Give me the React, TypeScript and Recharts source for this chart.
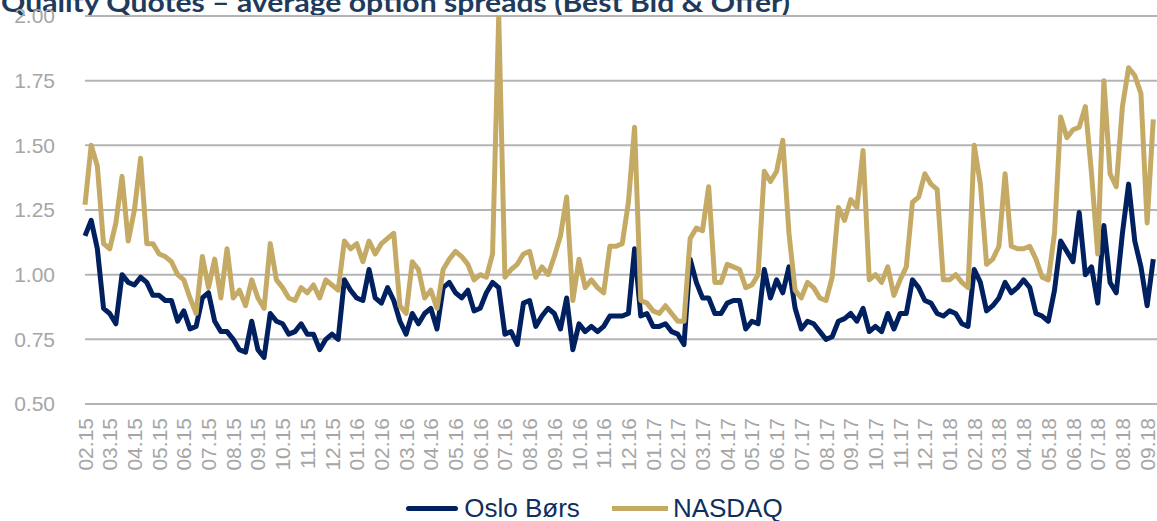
import { LineChart, Line, XAxis, YAxis, CartesianGrid } from 'recharts';

// month labels, one tick per month starting 02.15
const months = [
  '02.15', '03.15', '04.15', '05.15', '06.15', '07.15', '08.15', '09.15', '10.15', '11.15', '12.15',
  '01.16', '02.16', '03.16', '04.16', '05.16', '06.16', '07.16', '08.16', '09.16', '10.16', '11.16', '12.16',
  '01.17', '02.17', '03.17', '04.17', '05.17', '06.17', '07.17', '08.17', '09.17', '10.17', '11.17', '12.17',
  '01.18', '02.18', '03.18', '04.18', '05.18', '06.18', '07.18', '08.18', '09.18',
];

// weekly readings (4 per month) of average spread
const osloBors = [
  1.15, 1.21, 1.10, 0.87, 0.85, 0.81, 1.00, 0.97, 0.96, 0.99, 0.97, 0.92, 0.92, 0.90, 0.90, 0.82,
  0.86, 0.79, 0.80, 0.91, 0.93, 0.82, 0.78, 0.78, 0.75, 0.71, 0.70, 0.82, 0.71, 0.68, 0.85, 0.82,
  0.81, 0.77, 0.78, 0.81, 0.77, 0.77, 0.71, 0.75, 0.77, 0.75, 0.98, 0.94,
  0.91, 0.90, 1.02, 0.91, 0.89, 0.95, 0.90, 0.82, 0.77, 0.85, 0.81, 0.85, 0.87, 0.79, 0.95, 0.97,
  0.93, 0.91, 0.94, 0.86, 0.87, 0.93, 0.97, 0.95, 0.77, 0.78, 0.73, 0.89, 0.90, 0.80, 0.84, 0.87,
  0.85, 0.79, 0.91, 0.71, 0.81, 0.78, 0.80, 0.78, 0.80, 0.84, 0.84, 0.84,
  0.85, 1.10, 0.84, 0.85, 0.80, 0.80, 0.81, 0.78, 0.77, 0.73, 1.06, 0.97, 0.91, 0.91, 0.85, 0.85,
  0.89, 0.90, 0.90, 0.79, 0.82, 0.81, 1.02, 0.91, 0.98, 0.93, 1.03, 0.87, 0.79, 0.82, 0.81, 0.78,
  0.75, 0.76, 0.82, 0.83, 0.85, 0.82, 0.87, 0.78, 0.80, 0.78, 0.85, 0.79,
  0.85, 0.85, 0.98, 0.95, 0.90, 0.89, 0.85, 0.84, 0.86, 0.85, 0.81, 0.80, 1.02, 0.97, 0.86, 0.88,
  0.91, 0.97, 0.93, 0.95, 0.98, 0.95, 0.85, 0.84, 0.82, 0.94, 1.13, 1.09, 1.05, 1.24, 1.00, 1.03,
  0.89, 1.19, 0.97, 0.93, 1.16, 1.35, 1.13, 1.03, 0.88, 1.06,
];

const nasdaq = [
  1.27, 1.50, 1.42, 1.12, 1.10, 1.20, 1.38, 1.13, 1.25, 1.45, 1.12, 1.12, 1.08, 1.07, 1.05, 1.00,
  0.98, 0.91, 0.85, 1.07, 0.95, 1.06, 0.91, 1.10, 0.91, 0.94, 0.88, 0.98, 0.91, 0.87, 1.12, 0.98,
  0.95, 0.91, 0.90, 0.95, 0.93, 0.96, 0.91, 0.98, 0.96, 0.94, 1.13, 1.10,
  1.12, 1.05, 1.13, 1.08, 1.12, 1.14, 1.16, 0.88, 0.85, 1.05, 1.02, 0.91, 0.94, 0.87, 1.02, 1.06,
  1.09, 1.07, 1.04, 0.98, 1.00, 0.99, 1.08, 2.00, 0.99, 1.02, 1.04, 1.08, 1.09, 0.99, 1.03, 1.00,
  1.07, 1.15, 1.30, 0.90, 1.06, 0.95, 0.98, 0.95, 0.93, 1.11, 1.11, 1.12,
  1.28, 1.57, 0.90, 0.89, 0.86, 0.85, 0.88, 0.85, 0.82, 0.82, 1.14, 1.18, 1.17, 1.34, 0.97, 0.97,
  1.04, 1.03, 1.02, 0.95, 0.96, 1.00, 1.40, 1.36, 1.40, 1.52, 1.16, 0.94, 0.91, 0.97, 0.95, 0.91,
  0.90, 0.99, 1.26, 1.21, 1.29, 1.26, 1.48, 0.98, 1.00, 0.97, 1.03, 0.92,
  0.98, 1.03, 1.28, 1.30, 1.39, 1.35, 1.33, 0.98, 0.98, 1.00, 0.97, 0.95, 1.50, 1.35, 1.04, 1.06,
  1.11, 1.39, 1.11, 1.10, 1.10, 1.11, 1.06, 0.99, 0.98, 1.16, 1.61, 1.53, 1.56, 1.57, 1.65, 1.39,
  1.08, 1.75, 1.39, 1.34, 1.65, 1.80, 1.77, 1.70, 1.20, 1.60,
];

const yTicks = [0.5, 0.75, 1.0, 1.25, 1.5, 1.75, 2.0];

const data = nasdaq.map((v, i) => ({ t: i / 4, oslo: osloBors[i], nasdaq: v }));

const GRAY = '#A6A6A6';
const NAVY = '#002060';
const GOLD = '#C4AA64';

function MonthTick({ x, y, payload }: any) {
  return (
    <g transform={`translate(${x},${y})`}>
      <text
        transform="rotate(-90)"
        x={-14}
        dy="0.36em"
        textAnchor="end"
        fill={GRAY}
        fontSize={21}
        fontFamily="'Liberation Sans', Arial, sans-serif"
      >
        {months[payload.value]}
      </text>
    </g>
  );
}

export default function App() {
  return (
    <div style={{ position: 'absolute', left: 0, top: 0, width: 1157, height: 521, background: '#fff', overflow: 'hidden' }}>
      <svg width={1157} height={30} style={{ position: 'absolute', left: 0, top: 0 }}>
        <text
          x={1}
          y={12}
          fill="#1F3B5C"
          fontSize={26}
          fontWeight="bold"
          fontFamily="Lato, 'Open Sans', sans-serif"
          textLength={789}
          lengthAdjust="spacingAndGlyphs"
        >
          Quality Quotes – average option spreads (Best Bid &amp; Offer)
        </text>
      </svg>
      <LineChart width={1157} height={521} data={data} margin={{ top: 16, right: 0, bottom: 0, left: 0 }}>
        <CartesianGrid vertical={false} stroke="#B4B4B4" strokeWidth={2} />
        <XAxis
          dataKey="t"
          type="number"
          domain={[0, 43.4]}
          ticks={months.map((_, i) => i)}
          interval={0}
          height={117}
          tickLine={false}
          axisLine={false}
          tickSize={0}
          tickMargin={0}
          tick={<MonthTick />}
        />
        <YAxis
          domain={[0.5, 2]}
          ticks={yTicks}
          width={85}
          tickLine={false}
          axisLine={false}
          tickMargin={24}
          tickFormatter={(v: number) => v.toFixed(2)}
          tick={{ fill: GRAY, fontSize: 21, fontFamily: "'Liberation Sans', Arial, sans-serif" }}
          allowDataOverflow
        />
        <Line
          type="linear"
          dataKey="oslo"
          name="Oslo Børs"
          stroke={NAVY}
          strokeWidth={5}
          strokeLinejoin="round"
          dot={false}
          isAnimationActive={false}
        />
        <Line
          type="linear"
          dataKey="nasdaq"
          name="NASDAQ"
          stroke={GOLD}
          strokeWidth={5}
          strokeLinejoin="round"
          dot={false}
          isAnimationActive={false}
        />
      </LineChart>
      <div
        style={{
          position: 'absolute',
          left: 16,
          top: 493,
          width: 1157,
          display: 'flex',
          justifyContent: 'center',
          alignItems: 'center',
          fontFamily: "'Liberation Sans', Arial, sans-serif",
          fontSize: 26,
          color: '#0F2F5F',
          whiteSpace: 'nowrap',
        }}
      >
        <span style={{ display: 'inline-block', width: 52, height: 5, background: NAVY, borderRadius: 3, marginRight: 6 }} />
        <span>Oslo Børs</span>
        <span style={{ display: 'inline-block', width: 56, height: 5, background: GOLD, marginLeft: 32, marginRight: 5 }} />
        <span>NASDAQ</span>
      </div>
    </div>
  );
}
